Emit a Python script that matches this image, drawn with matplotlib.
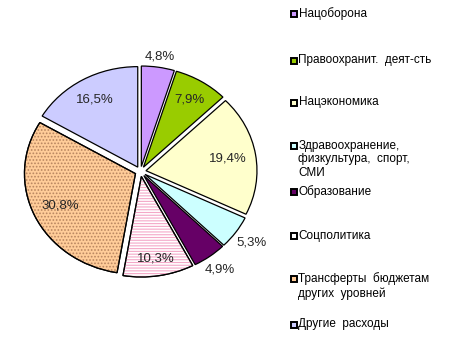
"""Pie chart of budget expenditure structure (exploded, Excel-like)."""

import numpy as np
import matplotlib
matplotlib.use("Agg")
import matplotlib.pyplot as plt
from matplotlib.patches import Rectangle, Wedge

plt.rcParams["font.family"] = ["Liberation Sans", "DejaVu Sans"]
plt.rcParams["hatch.linewidth"] = 0.8

# Data
categories = [
    "Нацоборона",
    "Правоохранит.  деят-сть",
    "Нацэкономика",
    "Здравоохранение,\nфизкультура,  спорт,\nСМИ",
    "Образование",
    "Соцполитика",
    "Трансферты  бюджетам\nдругих  уровней",
    "Другие  расходы",
]
shares = [4.8, 7.9, 19.4, 5.3, 4.9, 10.3, 30.8, 16.5]

# Styles
colors = ["#CC99FF", "#99CC00", "#FFFFCC", "#CCFFFF", "#660066", "#FFFFFF", "#FFCC99", "#CCCCFF"]
hatches = [None, None, None, None, None, "------", ".....", None]
hatch_colors = [None, None, None, None, None, "#F4A8C8", "#B88560", None]
label_dist = [1.16, 0.84, 0.80, 1.22, 1.21, 0.88, 0.80, 0.83]

W, H = 455, 359
cx, cy = 140.5, 171.5   # pie centre in pixels (from top-left)
rx, ry = 111, 100.5      # pie radii in pixels

fig = plt.figure(figsize=(W / 100, H / 100), dpi=100)
ax = fig.add_axes([0, 0, 1, 1])

wedges, _ = ax.pie(
    shares,
    colors=colors,
    startangle=90,
    counterclock=False,
    explode=[0.05] * len(shares),
    wedgeprops=dict(edgecolor="black", linewidth=0.9),
)
ax.set_xlim(-cx / rx, (W - cx) / rx)
ax.set_ylim(-(H - cy) / ry, cy / ry)
ax.set_aspect("auto")
ax.axis("off")

for w, v, h, hc, d in zip(wedges, shares, hatches, hatch_colors, label_dist):
    if h:
        # hatch overlay in its own colour, then redraw the black outline
        ov = Wedge(w.center, w.r, w.theta1, w.theta2,
                   facecolor="none", edgecolor=hc, hatch=h, linewidth=0, zorder=1.5)
        ax.add_patch(ov)
        edge = Wedge(w.center, w.r, w.theta1, w.theta2,
                     facecolor="none", edgecolor="black", linewidth=0.9, zorder=2)
        ax.add_patch(edge)
    ang = np.deg2rad((w.theta1 + w.theta2) / 2)
    txt = f"{v:.1f}".replace(".", ",") + "%"
    ax.text(d * np.cos(ang), d * np.sin(ang), txt, ha="center", va="center",
            fontsize=9.5, color="#262626", zorder=3)

# Legend (drawn manually, Excel-style)
legend_y = [14, 61, 103, 146, 192, 236, 279, 325]
for name, col, y in zip(categories, colors, legend_y):
    fig.add_artist(Rectangle((291 / W, 1 - (y + 3) / H), 6 / W, 6 / H,
                             transform=fig.transFigure, facecolor=col,
                             edgecolor="black", linewidth=1.4))
    fig.text(298.5 / W, 1 - (y - 6.5) / H, name, ha="left", va="top",
             fontsize=8.5, linespacing=1.2, color="black")

fig.savefig("out.png", dpi=100)
